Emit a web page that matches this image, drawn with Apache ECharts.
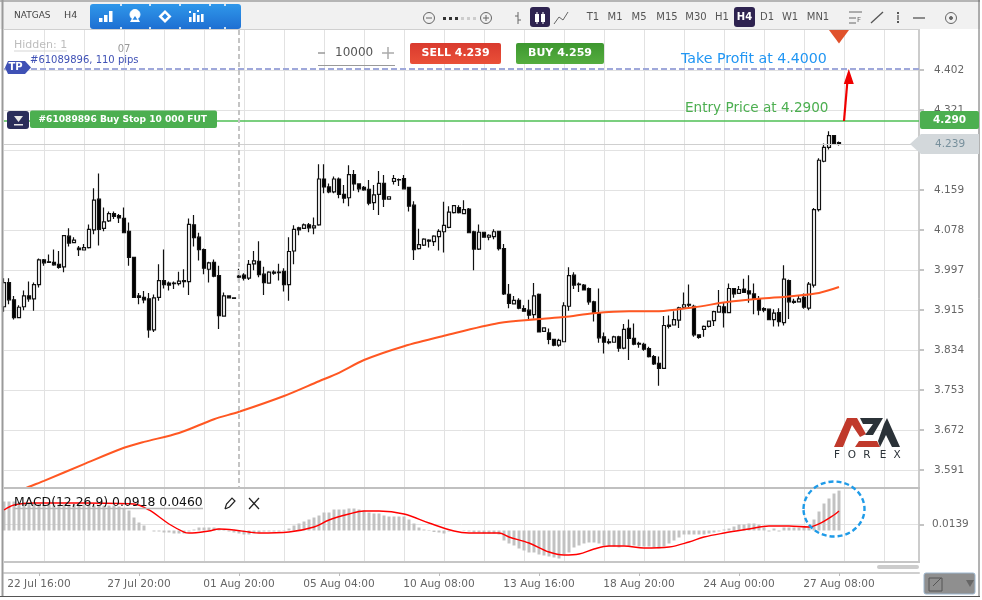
<!DOCTYPE html>
<html>
<head>
<meta charset="utf-8">
<script src="https://cdn.jsdelivr.net/npm/echarts@6/dist/echarts.min.js"></script>
<style>html,body{margin:0;padding:0;background:#fff}#c{width:982px;height:600px}</style>
</head>
<body>
<div id="c"></div>
<script>
// open, close, low, high per 4h candle
const ohlc = [
[3.922,3.971,3.912,3.980],[3.971,3.936,3.927,3.980],[3.936,3.900,3.896,3.944],[3.900,3.921,3.900,3.925],[3.922,3.944,3.915,3.955],
[3.944,3.938,3.932,3.973],[3.938,3.967,3.914,3.971],[3.967,4.017,3.961,4.020],[4.017,4.011,4.005,4.019],[4.013,4.012,4.011,4.028],
[4.012,4.007,4.005,4.038],[4.008,4.002,3.999,4.035],[4.003,4.066,3.992,4.067],[4.065,4.051,4.044,4.081],[4.052,4.057,4.052,4.063],
[4.041,4.038,4.025,4.045],[4.037,4.042,4.037,4.049],[4.042,4.079,4.040,4.089],[4.078,4.138,4.069,4.162],[4.140,4.079,4.046,4.192],
[4.081,4.094,4.075,4.123],[4.096,4.111,4.094,4.115],[4.111,4.105,4.100,4.115],[4.107,4.102,4.092,4.110],[4.101,4.072,4.071,4.123],
[4.075,4.022,4.005,4.093],[4.022,3.941,3.941,4.022],[3.944,3.941,3.927,3.950],[3.941,3.936,3.929,3.954],[3.938,3.875,3.859,3.950],
[3.875,3.940,3.871,3.947],[3.941,3.975,3.934,4.008],[3.975,3.967,3.959,4.038],[3.970,3.966,3.955,3.973],[3.970,3.969,3.958,3.973],
[3.969,3.974,3.965,3.993],[3.975,3.973,3.961,3.998],[3.973,4.089,3.946,4.101],[4.088,4.062,4.044,4.108],[4.063,4.038,4.016,4.072],
[4.038,4.000,3.988,4.040],[3.998,4.011,3.971,4.013],[4.012,3.984,3.982,4.018],[3.985,3.904,3.877,4.005],[3.903,3.944,3.902,3.951],
[3.944,3.940,3.940,3.945],[3.940,3.939,3.939,3.940],[3.984,3.982,3.973,3.999],[3.986,3.980,3.975,3.990],[3.980,4.008,3.976,4.017],
[4.009,4.015,3.996,4.035],[4.014,3.987,3.982,4.055],[3.988,3.971,3.946,4.003],[3.970,3.992,3.969,3.994],[3.992,3.990,3.987,3.996],
[3.992,3.991,3.975,4.009],[3.994,3.967,3.953,4.000],[3.967,4.034,3.934,4.063],[4.035,4.079,4.008,4.087],[4.082,4.078,4.067,4.084],
[4.081,4.088,4.080,4.091],[4.088,4.082,4.073,4.092],[4.082,4.086,4.069,4.103],[4.088,4.181,4.086,4.211],[4.181,4.165,4.152,4.211],
[4.165,4.155,4.152,4.172],[4.155,4.181,4.152,4.186],[4.181,4.150,4.142,4.184],[4.150,4.142,4.132,4.169],[4.143,4.190,4.126,4.209],
[4.190,4.171,4.157,4.199],[4.171,4.161,4.154,4.172],[4.164,4.159,4.157,4.167],[4.160,4.132,4.128,4.179],[4.133,4.149,4.118,4.169],
[4.150,4.172,4.108,4.197],[4.172,4.140,4.124,4.189],[4.140,4.145,4.140,4.145],[4.176,4.182,4.170,4.189],[4.180,4.179,4.167,4.182],
[4.182,4.161,4.160,4.189],[4.164,4.126,4.115,4.165],[4.128,4.038,4.017,4.136],[4.040,4.048,4.038,4.080],[4.047,4.059,4.045,4.061],
[4.057,4.055,4.042,4.059],[4.054,4.065,4.045,4.067],[4.064,4.075,4.036,4.079],[4.074,4.087,4.032,4.135],[4.083,4.114,4.081,4.126],
[4.113,4.127,4.111,4.128],[4.123,4.113,4.111,4.128],[4.111,4.119,4.110,4.138],[4.120,4.072,4.071,4.122],[4.074,4.039,3.996,4.076],
[4.039,4.073,4.037,4.089],[4.073,4.063,4.062,4.074],[4.063,4.067,4.057,4.069],[4.064,4.074,4.059,4.079],[4.075,4.040,4.036,4.075],
[4.040,3.948,3.946,4.049],[3.947,3.929,3.919,3.968],[3.928,3.935,3.927,3.944],[3.935,3.919,3.917,3.939],[3.918,3.913,3.912,3.925],
[3.915,3.905,3.896,3.936],[3.906,3.944,3.898,3.970],[3.947,3.871,3.871,3.949],[3.872,3.879,3.871,3.880],[3.869,3.856,3.846,3.878],
[3.856,3.844,3.842,3.856],[3.844,3.854,3.841,3.857],[3.851,3.924,3.850,3.931],[3.923,3.985,3.914,4.002],[3.986,3.966,3.958,3.992],
[3.968,3.967,3.952,3.971],[3.966,3.956,3.955,3.968],[3.959,3.932,3.926,3.961],[3.932,3.909,3.892,3.934],[3.910,3.859,3.849,3.959],
[3.861,3.850,3.827,3.870],[3.851,3.849,3.846,3.857],[3.850,3.861,3.849,3.863],[3.861,3.838,3.831,3.863],[3.838,3.876,3.836,3.887],
[3.878,3.858,3.814,3.896],[3.858,3.846,3.844,3.888],[3.848,3.846,3.839,3.851],[3.846,3.836,3.833,3.849],[3.837,3.821,3.819,3.841],
[3.821,3.806,3.804,3.824],[3.807,3.797,3.762,3.821],[3.797,3.884,3.796,3.903],[3.885,3.882,3.878,3.904],[3.885,3.896,3.884,3.913],
[3.895,3.920,3.879,3.922],[3.921,3.926,3.919,3.951],[3.927,3.925,3.919,3.967],[3.923,3.865,3.861,3.926],[3.865,3.860,3.857,3.866],
[3.876,3.882,3.861,3.884],[3.882,3.893,3.880,3.894],[3.894,3.912,3.883,3.914],[3.911,3.923,3.910,3.956],[3.922,3.910,3.880,3.930],
[3.910,3.959,3.909,3.969],[3.959,3.948,3.940,3.960],[3.949,3.957,3.948,3.964],[3.958,3.951,3.950,3.979],[3.954,3.948,3.930,3.986],
[3.948,3.939,3.907,3.969],[3.938,3.915,3.905,3.944],[3.918,3.915,3.911,3.921],[3.917,3.896,3.895,3.917],[3.896,3.909,3.882,3.917],
[3.910,3.892,3.882,3.919],[3.890,3.978,3.884,4.006],[3.975,3.932,3.897,3.977],[3.933,3.931,3.928,3.938],[3.932,3.938,3.931,3.944],
[3.941,3.921,3.918,3.949],[3.919,3.968,3.915,3.972],[3.966,4.119,3.961,4.122],[4.119,4.219,4.115,4.223],[4.217,4.245,4.215,4.253],
[4.245,4.269,4.241,4.278],[4.269,4.253,4.252,4.270],[4.255,4.251,4.249,4.257]
];

// moving average, read at these candle indexes
const maIndex  = [0,5,8,16,24,28,35,42,47,56,63,67,72,80,88,99,107,112,118,125,131,138,145,151,158,163,167];
const maValues = [3.536,3.557,3.569,3.603,3.636,3.648,3.666,3.694,3.709,3.741,3.771,3.788,3.814,3.842,3.863,3.889,3.897,3.901,3.909,3.913,3.913,3.921,3.932,3.938,3.944,3.950,3.962];

// MACD histogram, one per candle
const macdHist = [
.0667,.0667,.0667,.0644,.0644,.0621,.0621,.0621,.0598,.0598,
.0598,.0598,.0598,.0598,.0598,.0598,.0598,.0598,.0575,.0575,
.0575,.0575,.0575,.0552,.0506,.046,.0299,.0184,.0115,0,
-.0023,-.0023,-.0046,-.0046,-.0069,-.0069,-.0069,-.0023,.0023,.0069,
.0069,.0069,.0069,.0046,.0023,-.0023,-.0046,-.0069,-.0092,-.0092,
-.0069,-.0046,-.0023,-.0023,-.0023,-.0023,-.0012,.0046,.0115,.0161,
.0207,.0253,.0299,.0345,.0414,.0414,.0483,.0483,.0483,.0506,
.0506,.0483,.046,.0414,.0391,.0391,.0345,.0322,.0322,.0322,
.0322,.0253,.0161,.0069,.0023,-.0012,-.0035,-.0046,-.0069,-.0023,
0,0,-.0012,-.0023,-.0046,-.0046,-.0069,-.0069,-.0069,-.0092,
-.023,-.0299,-.0345,-.0414,-.046,-.0506,-.0506,-.0552,-.0575,-.0598,
-.0621,-.0644,-.0552,-.0506,-.0391,-.0345,-.0299,-.0276,-.0276,-.0299,
-.0345,-.0368,-.0368,-.0391,-.0345,-.0368,-.0345,-.0368,-.0368,-.0368,
-.0391,-.0414,-.0368,-.0299,-.023,-.0161,-.0092,-.0092,-.0092,-.0092,
-.0092,-.0069,-.0046,-.0023,.0023,.0046,.0092,.0138,.0138,.0161,
.0161,.0138,.0069,-.0023,.0046,-.0023,.0069,.0069,.0069,.0069,
.0069,.0092,.0253,.0437,.0621,.0736,.0851,.0918
];

// MACD signal line, read at these candle indexes
const signalIndex  = [0,2,6,16,26,29,33,36,37,41,43,46,49,51,57,62,65,69,72,75,80,85,90,93,99,101,105,109,112,115,118,121,124,128,133,137,140,144,149,153,157,161,163,166,167];
const signalValues = [.0472,.0587,.0633,.0633,.0610,.0472,.0150,-.0035,-.0058,-.0012,.0035,.0012,-.0035,-.0058,-.0035,.0081,.0242,.0380,.0449,.0449,.0380,.0173,-.0012,-.0058,-.0058,-.0150,-.0288,-.0495,-.0564,-.0541,-.0426,-.0357,-.0357,-.0403,-.0380,-.0265,-.0150,-.0058,.0035,.0104,.0104,.0081,.0150,.0357,.0449];

// axis labels
const priceGridTicks = [3.591,3.672,3.753,3.834,3.915,3.9965,4.078,4.159,4.240,4.321,4.402];
const priceLabelTicks = [3.591,3.672,3.753,3.834,3.915,3.9965,4.078,4.159,4.321,4.402];
const macdTicks = [0.0139];
const timeLabels = ['22 Jul 16:00','27 Jul 20:00','01 Aug 20:00','05 Aug 04:00','10 Aug 08:00','13 Aug 16:00','18 Aug 20:00','24 Aug 00:00','27 Aug 08:00'];

// order levels as drawn against the price axis, with their captions
const takeProfitLevel = 4.404;
const entryLevel = 4.2985;
const lastLevel = 4.251;
const entryCaption = '4.290';
const lastCaption = '4.239';

const FONT = 'DejaVu Sans';
const SLOTS = 184, LABEL_FIRST = 7, LABEL_STEP = 20;
const categories = [];
for (let i = 0; i < SLOTS; i++) {
  const k = (i - LABEL_FIRST) / LABEL_STEP;
  categories.push(Number.isInteger(k) && timeLabels[k] ? timeLabels[k] : 'c' + i);
}
const isLabelTick = i => (i - LABEL_FIRST) % LABEL_STEP === 0 && (i - LABEL_FIRST) / LABEL_STEP < timeLabels.length && i >= LABEL_FIRST;
const isGridTick = i => i % 8 === 0 && i > 0;

const GRID = '#e2e2e2';
const hiddenX = (gridIndex, split) => ({
  type: 'category', gridIndex, data: categories, boundaryGap: false,
  axisLine: { show: false }, axisTick: { show: false }, axisLabel: { show: false },
  splitLine: split ? { show: true, interval: isGridTick, lineStyle: { color: GRID, width: 1 } } : { show: false }
});

// ---- drawn chrome ----
const g = [];
const rect = (x, y, w, h, fill, r, extra) => g.push(Object.assign({ type: 'rect', shape: { x, y, width: w, height: h, r: r || 0 }, style: Object.assign({ fill }, extra || {}), z: 100, silent: true }));
const line = (x1, y1, x2, y2, stroke, lineWidth, extra) => g.push({ type: 'line', shape: { x1, y1, x2, y2 }, style: Object.assign({ stroke, lineWidth: lineWidth || 1 }, extra || {}), z: 100, silent: true });
const poly = (points, fill) => g.push({ type: 'polygon', shape: { points }, style: { fill }, z: 100, silent: true });
const pline = (points, stroke, lineWidth) => g.push({ type: 'polyline', shape: { points }, style: { stroke, lineWidth: lineWidth || 1, fill: null }, z: 100, silent: true });
const circ = (cx, cy, r, stroke, lineWidth, fill) => g.push({ type: 'circle', shape: { cx, cy, r }, style: { stroke, lineWidth: lineWidth || 1, fill: fill || null }, z: 100, silent: true });
const txt = (x, y, text, fill, size, opt) => g.push({ type: 'text', x, y, style: Object.assign({ text, fill, font: (opt && opt.bold ? 'bold ' : '') + size + 'px "' + FONT + '"', textAlign: (opt && opt.align) || 'left', textVerticalAlign: 'middle' }), z: 101, silent: true });

// toolbar
rect(0, 0, 982, 29, '#f1f1f1');
line(0, 1, 982, 1, '#b5b5b5', 2);
line(4, 29.5, 920, 29.5, '#d0d0d0', 1);
txt(14, 16, 'NATGAS', '#444', 9);
txt(64, 16, 'H4', '#444', 9.5);
g.push({ type: 'rect', shape: { x: 90, y: 4, width: 151, height: 25, r: 3 }, style: { fill: { type: 'linear', x: 0, y: 0, x2: 0, y2: 1, colorStops: [{ offset: 0, color: '#2f97ea' }, { offset: 1, color: '#1e6fd2' }] } }, z: 100, silent: true });
[121, 150, 180, 210, 225].forEach(x => { line(x, 4, x, 6, '#cfe3f7', 2); line(x, 27, x, 29, '#cfe3f7', 2); });
rect(99, 18, 3.5, 4, '#fff'); rect(104, 15, 3.5, 7, '#fff'); rect(109, 11, 3.5, 11, '#fff');
circ(135, 14.5, 5, '#fff', 1, '#fff'); poly([[130, 22], [135, 13], [140, 22]], '#fff'); poly([[132.5, 19.8], [135, 16], [137.5, 19.8]], '#2a86e2');
poly([[165, 10], [171.5, 16.5], [165, 23], [158.5, 16.5]], '#fff'); poly([[165, 13.5], [168, 16.5], [165, 19.5], [162, 16.5]], '#2a86e2');
[[189, 17], [193, 13], [197, 15], [201, 14]].forEach(b => { rect(b[0], b[1], 2.6, 22 - b[1], '#fff'); });
rect(189, 11, 2, 2, '#fff'); rect(197, 10, 2, 2, '#fff');

circ(429, 18, 5.5, '#666', 1); line(426, 18, 432, 18, '#666', 1);
[443, 449, 455].forEach(x => rect(x, 17, 3, 3, '#333'));
[461, 467, 473].forEach(x => rect(x, 17, 3, 3, '#ccc'));
circ(486, 18, 5.5, '#666', 1); line(483, 18, 489, 18, '#666', 1); line(486, 15, 486, 21, '#666', 1);
line(518, 12, 518, 24, '#666', 1); line(515, 16, 518, 16, '#666', 1); line(518, 20, 521, 20, '#666', 1);
rect(530, 7, 20, 20, '#2e2350', 3);
line(537, 12, 537, 24, '#fff', 1); rect(535, 14, 4, 8, '#fff'); line(543, 12, 543, 24, '#fff', 1); rect(541, 14, 4, 8, '#fff');
pline([[554, 24], [559, 17], [563, 20], [568, 12]], '#666', 1);
[['T1', 593], ['M1', 615], ['M5', 639], ['M15', 667], ['M30', 696], ['H1', 722], ['D1', 767], ['W1', 790], ['MN1', 818]].forEach(t => txt(t[1], 17, t[0], '#555', 10, { align: 'center' }));
rect(734, 7, 21, 20, '#2e2350', 3);
txt(744.5, 17, 'H4', '#fff', 10, { align: 'center', bold: true });
line(849, 12, 862, 12, '#666', 1); line(849, 18, 856, 18, '#666', 1); line(849, 23, 856, 23, '#666', 1);
g.push({ type: 'text', x: 857, y: 20, style: { text: 'F', fill: '#666', font: '7px "' + FONT + '"', textVerticalAlign: 'middle' }, z: 101, silent: true });
line(871, 23, 883, 12, '#555', 1.3); line(898, 12, 898, 14, '#555', 2); line(898, 15, 898, 20, '#555', 1.3); line(898, 21, 898, 23, '#555', 2);
line(913, 18, 925, 18, '#555', 1.3); circ(951, 18, 5.5, '#666', 1); circ(951, 18, 1.5, '#666', 1, '#666');

// frame
line(2.5, 0, 2.5, 597, '#9a9a9a', 2);
line(979, 0, 979, 597, '#666', 1);
line(0, 596.5, 980, 596.5, '#555', 1);
rect(980, 0, 2, 600, '#fff');

// dashed crosshair
line(239, 30, 239, 488, '#c4c4c4', 2, { lineDash: [5, 3] });

// left labels
g.push({ type: 'text', x: 14, y: 45, style: { text: 'Hidden: 1', fill: '#bdbdbd', font: '11px "' + FONT + '"', textVerticalAlign: 'middle' }, z: 101, silent: true });
line(14, 51, 67, 51, '#d5d5d5', 1);
txt(124, 49, '07', '#999', 10, { align: 'center' });
txt(30, 60, '#61089896, 110 pips', '#3f51b5', 10);
poly([[8, 61], [25, 61], [31, 67.5], [25, 74], [8, 74], [5, 67.5]], '#3f51b5');
txt(15.5, 67.5, 'TP', '#fff', 10, { align: 'center', bold: true });
rect(7, 111, 22, 18, '#2a2d5a', 3);
poly([[14, 116], [23, 116], [18.5, 122]], '#e8e8e8'); rect(14, 124, 9, 1.5, '#e8e8e8');
rect(30, 110.5, 187, 17.5, '#4caf50', 2);
txt(38.5, 119.5, '#61089896 Buy Stop 10 000 FUT', '#fff', 9.1, { bold: true });

// order ticket
line(318, 53, 325, 53, '#999', 1.5);
txt(335, 53, '10000', '#555', 12);
line(382, 53, 394, 53, '#aaa', 1.5); line(388, 47, 388, 59, '#aaa', 1.5);
line(318, 65.5, 395, 65.5, '#999', 1);
g.push({ type: 'rect', shape: { x: 410, y: 43, width: 91, height: 21, r: 2 }, style: { fill: { type: 'linear', x: 0, y: 0, x2: 0, y2: 1, colorStops: [{ offset: 0, color: '#d93a2e' }, { offset: 1, color: '#ea5038' }] } }, z: 100, silent: true });
txt(455.5, 53.5, 'SELL 4.239', '#fff', 11, { align: 'center', bold: true });
g.push({ type: 'rect', shape: { x: 516, y: 43, width: 88, height: 21, r: 2 }, style: { fill: { type: 'linear', x: 0, y: 0, x2: 0, y2: 1, colorStops: [{ offset: 0, color: '#3d972f' }, { offset: 1, color: '#55ad3f' }] } }, z: 100, silent: true });
txt(560, 53.5, 'BUY 4.259', '#fff', 11, { align: 'center', bold: true });

// annotations
txt(681, 59, 'Take Profit at 4.4000', '#2196f3', 14.2);
txt(685, 108, 'Entry Price at 4.2900', '#4caf50', 13.6);
poly([[829, 30], [849, 30], [839, 43.5]], '#e0512b');
line(844, 121, 847.5, 80, '#f00000', 2.2);
poly([[848.8, 69], [843.8, 84], [853.8, 84]], '#f00000');
g.push({ type: 'ellipse', shape: { cx: 834, cy: 509, rx: 30.5, ry: 27.5 }, style: { stroke: '#1f9be8', lineWidth: 2.4, lineDash: [5, 3], fill: null }, z: 102, silent: true });

// entry price tag
rect(920, 111, 59, 18, '#4caf50', 2);
txt(949.5, 120, entryCaption, '#fff', 10.5, { align: 'center', bold: true });

// last price tag
poly([[910, 144], [921, 134], [979, 134], [979, 154], [921, 154]], '#d3d8db');
txt(935, 144, lastCaption, '#78909c', 10.5);

// logo
poly([[834, 447], [847, 418], [857, 418], [866, 434], [860, 437], [852, 425], [843, 447]], '#c0392b');
poly([[859, 441], [877, 441], [880, 447], [855, 447]], '#c0392b');
poly([[860, 418], [883, 418], [873, 435], [865, 435], [873, 424], [863, 424]], '#2b3238');
poly([[887, 418], [900, 447], [892, 447], [886, 435], [880, 447], [878, 441], [884, 424]], '#2b3238');
[['F', 837], ['O', 852], ['R', 867], ['E', 883], ['X', 897]].forEach(t => txt(t[1], 455, t[0], '#2b3238', 10.5, { align: 'center' }));

// pane separators and MACD header
line(4, 488, 920, 488, '#c0c0c0', 2);
line(4, 562, 920, 562, '#c6c6c6', 2);
rect(877, 565, 42, 4, '#cccccc', 2);
line(14, 508.5, 203, 508.5, '#b8b8b8', 1.5);
txt(14, 503, 'MACD(12,26,9) 0.0918 0.0460', '#111', 12.4);
pline([[225, 509], [226.5, 504], [232, 498], [235, 501], [229.5, 507], [225, 509]], '#222', 1.2);
line(249, 498, 259, 509, '#222', 1.2); line(259, 498, 249, 509, '#222', 1.2);

// expand button
rect(924, 573, 51, 21, '#8f8f8f', 2, { stroke: '#9db7cf', lineWidth: 1 });
g.push({ type: 'rect', shape: { x: 929, y: 578, width: 13, height: 13 }, style: { stroke: '#555', fill: null, lineWidth: 1 }, z: 101, silent: true });
line(933, 586, 941, 578, '#555', 1);
poly([[966, 580], [974, 580], [970, 587]], '#666');

const chart = echarts.init(document.getElementById('c'), null, { renderer: 'canvas' });
chart.setOption({
  animation: false,
  backgroundColor: '#ffffff',
  textStyle: { fontFamily: FONT },
  grid: [
    { left: 4, right: 63, top: 30, height: 458, containLabel: false },
    { left: 4, right: 63, top: 488, height: 74, containLabel: false },
    { left: 4, right: 63, top: 572, height: 1, containLabel: false }
  ],
  xAxis: [
    hiddenX(0, true),
    hiddenX(1, true),
    {
      type: 'category', gridIndex: 2, data: categories, boundaryGap: false, position: 'bottom',
      axisLine: { show: true, lineStyle: { color: '#cfcfcf', width: 2 } },
      axisTick: { show: true, length: 3, interval: isLabelTick, lineStyle: { color: '#bbb' } },
      axisLabel: { show: true, interval: isLabelTick, margin: 6, color: '#666', fontSize: 10.6, fontFamily: FONT, hideOverlap: false },
      splitLine: { show: false }
    }
  ],
  yAxis: [
    {
      type: 'value', gridIndex: 0, position: 'right', min: 3.5545, max: 4.4831, scale: true,
      axisLine: { show: true, onZero: false, lineStyle: { color: '#cccccc', width: 2 } },
      axisTick: { show: true, length: 5, customValues: priceGridTicks, lineStyle: { color: '#c4c4c4', width: 2 } },
      axisLabel: { show: true, customValues: priceLabelTicks, margin: 15, color: '#666', fontSize: 10.5, fontFamily: FONT, formatter: v => Number(v).toFixed(3) },
      splitLine: { show: true, lineStyle: { color: GRID, width: 1 } }
    },
    {
      type: 'value', gridIndex: 1, position: 'right', min: -0.07245, max: 0.09775,
      axisLine: { show: true, onZero: false, lineStyle: { color: '#cccccc', width: 2 } },
      axisTick: { show: true, length: 5, customValues: macdTicks, lineStyle: { color: '#c4c4c4', width: 2 } },
      axisLabel: { show: true, customValues: macdTicks, margin: 13, color: '#666', fontSize: 10.5, fontFamily: FONT, padding: [6, 0, 0, 0], formatter: v => Number(v).toFixed(4) },
      splitLine: { show: true, lineStyle: { color: GRID, width: 1 } }
    },
    { type: 'value', gridIndex: 2, show: false }
  ],
  series: [
    {
      name: 'NATGAS', type: 'candlestick', xAxisIndex: 0, yAxisIndex: 0, data: ohlc, barWidth: 3, clip: true,
      itemStyle: { color: '#ffffff', color0: '#000000', borderColor: '#111111', borderColor0: '#111111', borderColorDoji: '#111111', borderWidth: 1.2 }
    },
    {
      name: 'Moving average', type: 'line', xAxisIndex: 0, yAxisIndex: 0, showSymbol: false, symbol: 'none', clip: true, smooth: 0.3,
      data: maIndex.map((i, k) => [i, maValues[k]]),
      lineStyle: { color: '#ff5722', width: 2 }, z: 5,
      markLine: {
        silent: true, symbol: 'none', animation: false, precision: 4,
        data: [
          { yAxis: takeProfitLevel, lineStyle: { color: '#9fa8da', width: 2, type: [6, 3] }, label: { show: false } },
          { yAxis: lastLevel, lineStyle: { color: '#cfcfcf', width: 1, type: 'solid' }, label: { show: false } }
        ]
      }
    },
    {
      name: 'Entry level', type: 'line', xAxisIndex: 0, yAxisIndex: 0, showSymbol: false, symbol: 'none', z: 4,
      data: [[0, entryLevel], [SLOTS - 1, entryLevel]],
      lineStyle: { color: '#4fbf54', width: 1.5 }
    },
    {
      name: 'MACD histogram', type: 'bar', xAxisIndex: 1, yAxisIndex: 1, data: macdHist, barWidth: 3,
      itemStyle: { color: '#c2c2c2' }, clip: true
    },
    {
      name: 'MACD signal', type: 'line', xAxisIndex: 1, yAxisIndex: 1, showSymbol: false, symbol: 'none', smooth: 0.35,
      data: signalIndex.map((i, k) => [i, signalValues[k]]),
      lineStyle: { color: '#ff0000', width: 1.4 }, z: 5
    }
  ],
  graphic: { elements: g }
});
</script>
</body>
</html>
